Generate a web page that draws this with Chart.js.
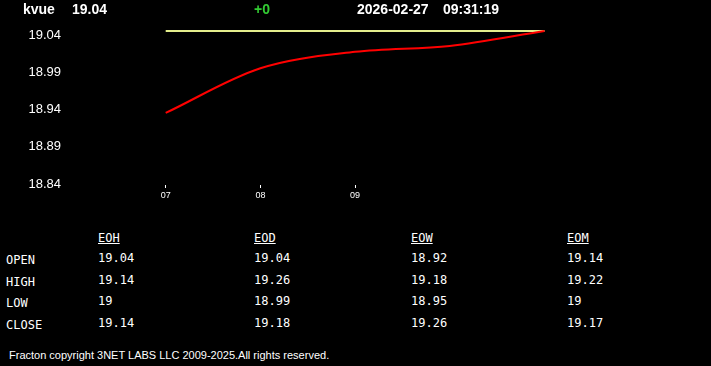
<!DOCTYPE html>
<html>
<head>
<meta charset="utf-8">
<script src="https://cdn.jsdelivr.net/npm/chart.js@4.4.1/dist/chart.umd.min.js"></script>
<style>
  html, body { margin:0; padding:0; background:#000; }
  body { width:711px; height:366px; overflow:hidden; position:relative; }
  #chartBox { position:absolute; left:0; top:0; width:711px; height:215px; }
  .hdr { position:absolute; top:2px; font:bold 14px "Liberation Sans", Arial, sans-serif; line-height:14px; color:#fff; white-space:pre; }
  .tbl { position:absolute; font:12px "DejaVu Sans Mono", monospace; line-height:14px; color:#fff; white-space:pre; }
  .tbl.head { text-decoration:underline; }
  #footer { position:absolute; left:9px; top:349px; font:11px "Liberation Sans", Arial, sans-serif; line-height:12px; color:#fff; white-space:pre; }
</style>
</head>
<body>
<div id="chartBox"><canvas id="c" width="711" height="215"></canvas></div>
<div class="hdr" id="sym" style="left:23px"></div>
<div class="hdr" id="last" style="left:72px"></div>
<div class="hdr" id="chg" style="left:254px;color:#33cc33"></div>
<div class="hdr" id="date" style="left:357px"></div>
<div class="hdr" id="time" style="left:443px"></div>
<div id="footer"></div>
<script>
// ---- data ----
const symbol = 'kvue';
const lastPrice = '19.04';
const change = '+0';
const dateText = '2026-02-27';
const timeText = '09:31:19';

const hours = [7, 8, 9, 10, 11];
const prices = [18.93, 18.99, 19.012, 19.02, 19.04];
const refHours = [7, 11];
const refLevels = [19.04, 19.04];

const xTickValues = [7, 8, 9];
const xTickLabels = ['07', '08', '09'];
const yTickValues = [18.84, 18.89, 18.94, 18.99, 19.04];

const tableCols = ['EOH', 'EOD', 'EOW', 'EOM'];
const tableRows = ['OPEN', 'HIGH', 'LOW', 'CLOSE'];
const eoh = ['19.04', '19.14', '19', '19.14'];
const eod = ['19.04', '19.26', '18.99', '19.18'];
const eow = ['18.92', '19.18', '18.95', '19.26'];
const eom = ['19.14', '19.22', '19', '19.17'];
const footerText = 'Fracton copyright 3NET LABS LLC 2009-2025.All rights reserved.';

// ---- header ----
document.getElementById('sym').textContent = symbol;
document.getElementById('last').textContent = lastPrice;
document.getElementById('chg').textContent = change;
document.getElementById('date').textContent = dateText;
document.getElementById('time').textContent = timeText;
document.getElementById('footer').textContent = footerText;

// ---- table ----
const colValues = [eoh, eod, eow, eom];
const colLeft = [98, 254, 411, 567];
const headTop = 231;
const rowTops = [252, 274, 295, 317];
function addText(txt, left, top, cls) {
  const d = document.createElement('div');
  d.className = cls;
  d.style.left = left + 'px';
  d.style.top = top + 'px';
  d.textContent = txt;
  document.body.appendChild(d);
}
tableCols.forEach((c, i) => addText(c, colLeft[i], headTop, 'tbl head'));
tableRows.forEach((r, j) => {
  addText(r, 6, rowTops[j] + 1, 'tbl');
  colValues.forEach((vals, i) => addText(vals[j], colLeft[i], rowTops[j] - 1, 'tbl'));
});

// ---- chart ----
const yMax = 19.04 + 11 / 745;
const yMin = 18.84 - 5 / 745;
const pxPerHour = 94.7;
const xMin = 7 - (165.7 - 70) / pxPerHour;
const xMax = xMin + 641 / pxPerHour;

new Chart(document.getElementById('c'), {
  type: 'line',
  data: {
    datasets: [
      {
        data: hours.map((h, i) => ({ x: h, y: prices[i] })),
        borderColor: '#ff0000',
        borderWidth: 2,
        pointRadius: 0,
        cubicInterpolationMode: 'monotone',
        fill: false
      },
      {
        data: refHours.map((h, i) => ({ x: h, y: refLevels[i] })),
        borderColor: '#e4ee8c',
        borderWidth: 2,
        pointRadius: 0,
        tension: 0,
        fill: false
      }
    ]
  },
  options: {
    responsive: false,
    animation: false,
    devicePixelRatio: 1,
    layout: { padding: { top: 20, left: 0, right: 0, bottom: 0 } },
    plugins: { legend: { display: false }, tooltip: { enabled: false } },
    scales: {
      x: {
        type: 'linear',
        min: xMin,
        max: xMax,
        afterBuildTicks: (axis) => { axis.ticks = xTickValues.map(v => ({ value: v })); },
        afterFit: (axis) => { axis.height = 30; },
        ticks: {
          color: '#ffffff',
          font: { family: 'Liberation Sans, Arial, sans-serif', size: 9 },
          padding: 2,
          maxRotation: 0,
          autoSkip: false,
          callback: (v) => { const k = xTickValues.indexOf(v); return k >= 0 ? xTickLabels[k] : ''; }
        },
        grid: { display: true, drawOnChartArea: false, drawTicks: true, tickLength: 3, color: '#ffffff' },
        border: { display: false }
      },
      y: {
        type: 'linear',
        min: yMin,
        max: yMax,
        afterBuildTicks: (axis) => { axis.ticks = yTickValues.map(v => ({ value: v })); },
        afterFit: (axis) => { axis.width = 70; },
        ticks: {
          color: '#ffffff',
          font: { family: 'Liberation Sans, Arial, sans-serif', size: 13 },
          padding: 9,
          labelOffset: 4,
          autoSkip: false,
          callback: (v) => v.toFixed(2)
        },
        grid: { display: false, drawTicks: false, tickLength: 0 },
        border: { display: false }
      }
    }
  }
});
</script>
</body>
</html>
